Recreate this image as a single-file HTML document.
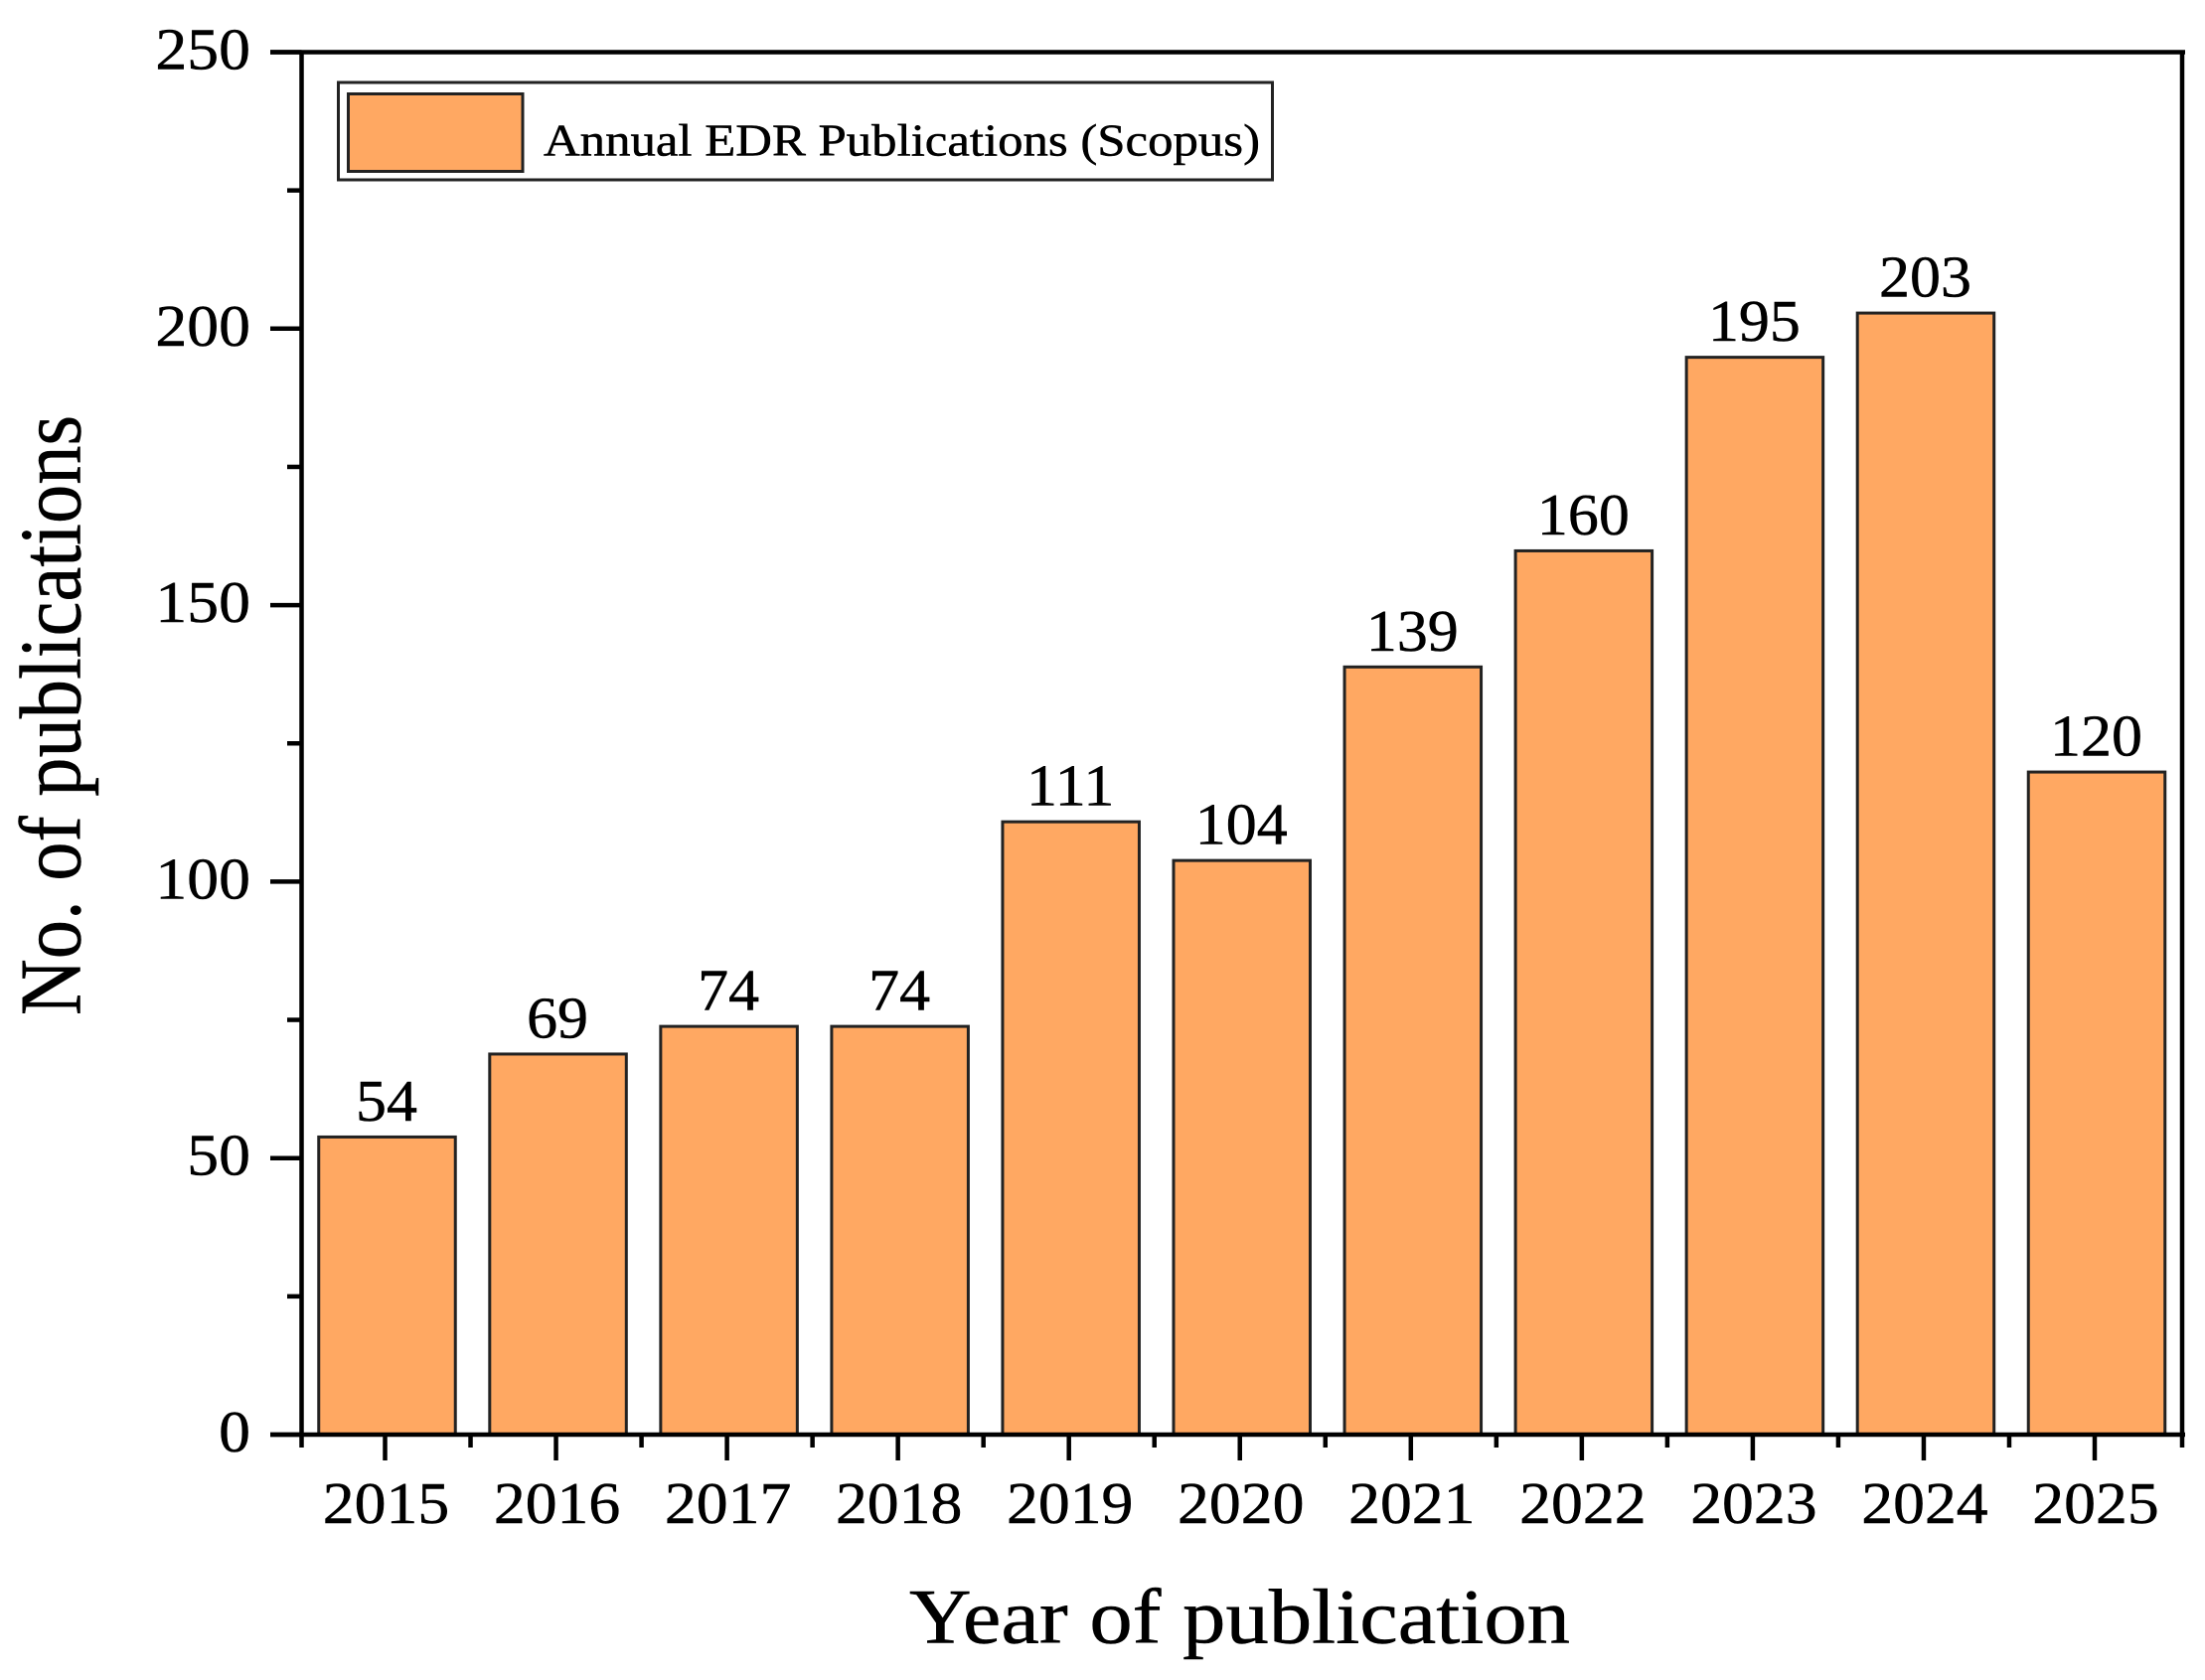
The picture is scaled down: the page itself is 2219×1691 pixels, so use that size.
<!DOCTYPE html>
<html lang="en">
<head>
<meta charset="utf-8">
<title>Annual EDR Publications</title>
<style>
html,body{margin:0;padding:0;background:#fff;}
svg{display:block;}
text{font-family:"Liberation Serif",serif;fill:#000;stroke:#000;stroke-width:0.5px;}
</style>
</head>
<body>
<svg id="chart" xmlns="http://www.w3.org/2000/svg" width="2219" height="1691" viewBox="0 0 2219 1691">
<rect x="0" y="0" width="2219" height="1691" fill="#fff"/>
<g id="bars"></g>
<g id="axes"></g>
<g id="labels"></g>
<text transform="translate(80.5,1022) rotate(-90)" font-size="88" textLength="604" lengthAdjust="spacingAndGlyphs">No. of publications</text>
<text x="915" y="1653.5" font-size="78" textLength="665" lengthAdjust="spacingAndGlyphs">Year of publication</text>
<g>
<rect x="340.5" y="83" width="940" height="98" fill="#fff" stroke="#222" stroke-width="3"/>
<rect x="350.5" y="94.5" width="175.5" height="78" fill="#FFA862" stroke="#222" stroke-width="3"/>
<text x="547" y="156.5" font-size="46" textLength="721" lengthAdjust="spacingAndGlyphs">Annual EDR Publications (Scopus)</text>
</g>
</svg>
<script>
const years = [2015, 2016, 2017, 2018, 2019, 2020, 2021, 2022, 2023, 2024, 2025];
const publications = [54, 69, 74, 74, 111, 104, 139, 160, 195, 203, 120];
const yMajorTicks = [0, 50, 100, 150, 200, 250];
const yMinorTicks = [25, 75, 125, 175, 225];

const NS = 'http://www.w3.org/2000/svg';
const plotLeft = 303.5, plotRight = 2196, plotBottom = 1444, plotTop = 52.5;
const firstTickX = 387.5, bandWidth = 172.05, barWidth = 137.5;
const yMax = 250;
const tickStretch = 1.08;
const valueStretch = 1.05;

function xScale(i) { return firstTickX + bandWidth * i; }
function yScale(v) { return plotBottom - (plotBottom - plotTop) * v / yMax; }

function shape(parent, tag, props) {
  const el = document.createElementNS(NS, tag);
  for (const k in props) el.setAttribute(k, props[k]);
  parent.appendChild(el);
  return el;
}
function line(parent, x1, y1, x2, y2, w) {
  return shape(parent, 'line', { x1: x1, y1: y1, x2: x2, y2: y2, stroke: '#000', 'stroke-width': w });
}
function label(parent, str, x, y, anchor, stretch) {
  const el = shape(parent, 'text', {
    transform: 'translate(' + x + ',' + y + ') scale(' + stretch + ',1)',
    'font-size': 59,
    'text-anchor': anchor
  });
  el.textContent = str;
  return el;
}

const barsG = document.getElementById('bars');
const axesG = document.getElementById('axes');
const labelsG = document.getElementById('labels');

publications.forEach(function (v, i) {
  const cx = xScale(i) + 2;
  const top = yScale(v) + 1;
  const bar = shape(barsG, 'rect', {
    x: cx - barWidth / 2,
    y: top,
    width: barWidth,
    height: plotBottom - top,
    fill: '#FFA862',
    stroke: '#222',
    'stroke-width': 3
  });
  
  

  const val = label(labelsG, String(v), xScale(i) + 1.5, top - 16.5, 'middle', valueStretch);
  
  

  const tick = line(axesG, xScale(i), plotBottom, xScale(i), 1470, 4.5);
  
  

  const tl = label(axesG, String(years[i]), xScale(i) + 1, 1533, 'middle', tickStretch);
  
  

  if (i < publications.length - 1) {
    const mt = line(axesG, xScale(i + 0.5), plotBottom, xScale(i + 0.5), 1457, 4.5);
    
    
  }
});

yMajorTicks.forEach(function (v) {
  const t = line(axesG, 272, yScale(v), plotLeft, yScale(v), 4.5);
  
  
  const tl = label(axesG, String(v), 252, yScale(v) + 17, 'end', tickStretch);
  
  
});

yMinorTicks.forEach(function (v) {
  const t = line(axesG, 289, yScale(v), plotLeft, yScale(v), 4.5);
  
  
});

const axisLeft = line(axesG, plotLeft, plotTop - 2, plotLeft, 1457, 4.5);



const axisRight = line(axesG, plotRight, plotTop - 2, plotRight, 1457, 4.5);



const axisBottom = line(axesG, 272, plotBottom, 2199, plotBottom, 4.5);



const axisTop = line(axesG, 272, plotTop, 2199, plotTop, 4.5);


</script>
</body>
</html>
